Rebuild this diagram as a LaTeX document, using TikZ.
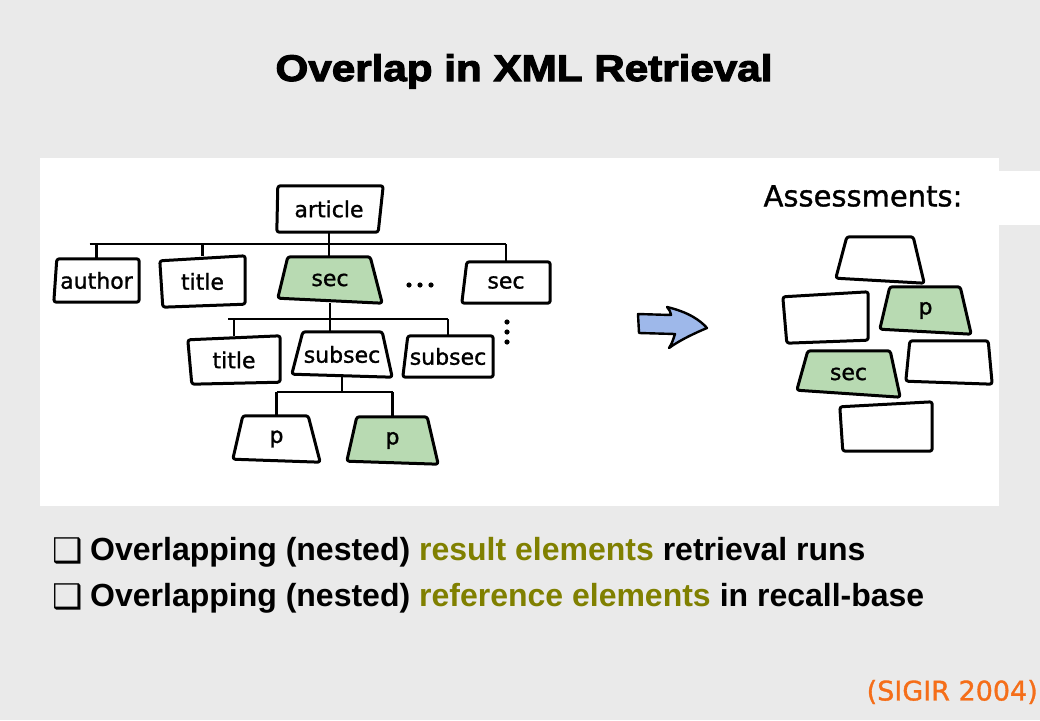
\documentclass[tikz,border=0pt]{standalone}
\usepackage{fontspec}
\setmainfont{DejaVu Sans}
\newfontfamily\boxfont{DejaVu Sans}[FakeBold=1.2]
\newfontfamily\bulfont{Liberation Sans}
\newfontfamily\titlefont{Liberation Sans Bold}[FakeBold=3,FakeStretch=1.14]
\newfontfamily\symfont{DejaVu Sans}
\usetikzlibrary{calc}
\definecolor{bggrey}{RGB}{234,234,234}
\definecolor{boxgreen}{RGB}{184,218,178}
\definecolor{arrowblue}{RGB}{158,184,234}
\definecolor{olivetxt}{RGB}{128,128,0}
\definecolor{sigir}{RGB}{245,110,25}
\pgfdeclarelayer{bg}
\pgfdeclarelayer{boxes}
\pgfsetlayers{bg,boxes,main}
\tikzset{
  el/.style={inner sep=0pt, font=\boxfont\fontsize{22}{25}\selectfont, text=black},
  outline/.style={draw=black, line width=3pt, line join=round, rounded corners=2.5pt},
  treeline/.style={draw=black, line width=2.8pt},
  dotmark/.style={fill=black},
}
\newcommand\wob[6][white]{%
  \begin{pgfonlayer}{boxes}
    \filldraw[outline,fill=#1] ($(#2.north west)+#3$) -- ($(#2.north east)+#4$) --
      ($(#2.south east)+#5$) -- ($(#2.south west)+#6$) -- cycle;
  \end{pgfonlayer}}
\begin{document}
\begin{tikzpicture}[x=1pt,y=-1pt]
\useasboundingbox (0,0) rectangle (1040,720);
\begin{pgfonlayer}{bg}
  \fill[bggrey] (0,0) rectangle (1040,720);
  \fill[white] (40,158) rectangle (999,506);
  \fill[white] (999,171) rectangle (1040,225);
\end{pgfonlayer}

% title
\node[font=\titlefont\fontsize{37}{42}\selectfont, anchor=base, inner sep=0pt] (ttl) at (524,81) {Overlap in XML Retrieval};

% tree nodes
\node[el, minimum width=108pt, minimum height=46pt] (article) at (329,209) {article};
\node[el, minimum width=85pt, minimum height=43pt] (author) at (96.5,280.5) {author};
\node[el, minimum width=85pt, minimum height=51pt] (titleA) at (202.5,281.5) {title};
\node[el, minimum width=104pt, minimum height=46pt] (secA) at (330,280) {sec};
\node[el, minimum width=88pt, minimum height=41pt] (secB) at (506,282.5) {sec};
\node[el, minimum width=92pt, minimum height=48pt] (titleB) at (234,360) {title};
\node[el, minimum width=100pt, minimum height=45pt] (subsecA) at (342,354.5) {subsec};
\node[el, minimum width=90pt, minimum height=41pt] (subsecB) at (448,356.5) {subsec};
\node[el, minimum width=87pt, minimum height=46pt] (pA) at (276.5,439) {p};
\node[el, minimum width=91pt, minimum height=47pt] (pB) at (392.5,440.5) {p};

\wob{article}{(3,0)}{(0,0)}{(-5,0)}{(2,0)}
\wob{author}{(3,0)}{(0,0)}{(0,0)}{(0,0)}
\wob{titleA}{(0,5)}{(0,0)}{(0,-3)}{(3,0)}
\wob[boxgreen]{secA}{(10,0)}{(-12,0)}{(0,0)}{(0,-5)}
\wob{secB}{(5,0)}{(0,0)}{(0,0)}{(0,0)}
\wob{titleB}{(0,4)}{(0,0)}{(0,-2)}{(4,0)}
\wob{subsecA}{(11,0)}{(-10,0)}{(0,0)}{(0,-3)}
\wob{subsecB}{(5,0)}{(0,0)}{(0,0)}{(0,0)}
\wob{pA}{(10,0)}{(-12,0)}{(0,0)}{(0,-3)}
\wob[boxgreen]{pB}{(10,0)}{(-11,0)}{(0,0)}{(0,-3)}

% tree connectors
\coordinate (bar1) at (329,244);
\coordinate (bar2) at (330,319);
\coordinate (bar3) at (342,392);
\draw[treeline] (article.south) -- (article.south |- secA.north);
\draw[treeline] ($(author.north |- bar1)+(-7,0)$) -- (secB.north |- bar1);
\foreach \n in {author,titleA,secB} \draw[treeline] (\n.north) -- (\n.north |- bar1);
\draw[treeline] (secA.south) -- (secA.south |- subsecA.north);
\draw[treeline] ($(titleB.north |- bar2)+(-6,0)$) -- (subsecB.north |- bar2);
\foreach \n in {titleB,subsecB} \draw[treeline] (\n.north) -- (\n.north |- bar2);
\draw[treeline] (subsecA.south) -- (subsecA.south |- bar3);
\draw[treeline] (pA.north |- bar3) -- (pB.north |- bar3);
\foreach \n in {pA,pB} \draw[treeline] (\n.north) -- (\n.north |- bar3);

% ellipses
\foreach \x in {409,420,431} \fill[dotmark] (\x,285) circle (2.6);
\foreach \y in {322,332,342} \fill[dotmark] (507,\y) circle (2.6);

% arrow
\filldraw[fill=arrowblue, draw=black, line width=2.4pt, line join=round]
  (638,314) -- (671,315) .. controls (670,311) .. (667,307)
  .. controls (688,312) and (700,320) .. (707,328)
  .. controls (695,333) and (680,340) .. (669,348)
  .. controls (672,343) .. (675,334) -- (639,333) -- cycle;

% assessments
\node[font=\boxfont\fontsize{29}{33}\selectfont, inner sep=0pt] (assess) at (863,196) {Assessments:};
\node[el, minimum width=88pt, minimum height=46pt] (a1) at (880,260) {};
\node[el, minimum width=85pt, minimum height=51pt] (a2) at (825.5,317.5) {};
\node[el, minimum width=91pt, minimum height=47pt] (ap) at (925.5,310.5) {p};
\node[el, minimum width=86pt, minimum height=43pt] (a3) at (949,362.5) {};
\node[el, minimum width=103pt, minimum height=46pt] (asec) at (848.5,374) {sec};
\node[el, minimum width=94pt, minimum height=49pt] (a4) at (885,426.5) {};
\wob{a1}{(11,0)}{(-11,0)}{(0,0)}{(0,-5)}
\wob{a2}{(0,5)}{(0,0)}{(0,-3)}{(4,0)}
\wob[boxgreen]{ap}{(10,0)}{(-11,0)}{(0,0)}{(0,-5)}
\wob{a3}{(4,0)}{(-4,0)}{(0,0)}{(0,-3)}
\wob[boxgreen]{asec}{(11,0)}{(-10,0)}{(0,0)}{(0,-7)}
\wob{a4}{(2,5)}{(0,0)}{(0,0)}{(5,0)}

% bullets
\node[font=\symfont\fontsize{34}{38}\selectfont, anchor=base west, inner sep=0pt] (b1) at (52,562) {❑};
\node[font=\bulfont\bfseries\fontsize{32}{36}\selectfont, anchor=base west, inner sep=0pt] (l1) at (90,560)
  {Overlapping (nested) \textcolor{olivetxt}{result elements} retrieval runs};
\node[font=\symfont\fontsize{34}{38}\selectfont, anchor=base west, inner sep=0pt] (b2) at (52,608) {❑};
\node[font=\bulfont\bfseries\fontsize{32}{36}\selectfont, anchor=base west, inner sep=0pt] (l2) at (90,606)
  {Overlapping (nested) \textcolor{olivetxt}{reference elements} in recall-base};

\node[font=\boxfont\fontsize{27}{30}\selectfont, text=sigir, anchor=east, inner sep=0pt] (src) at (1038,692) {(SIGIR 2004)};
\end{tikzpicture}
\end{document}
